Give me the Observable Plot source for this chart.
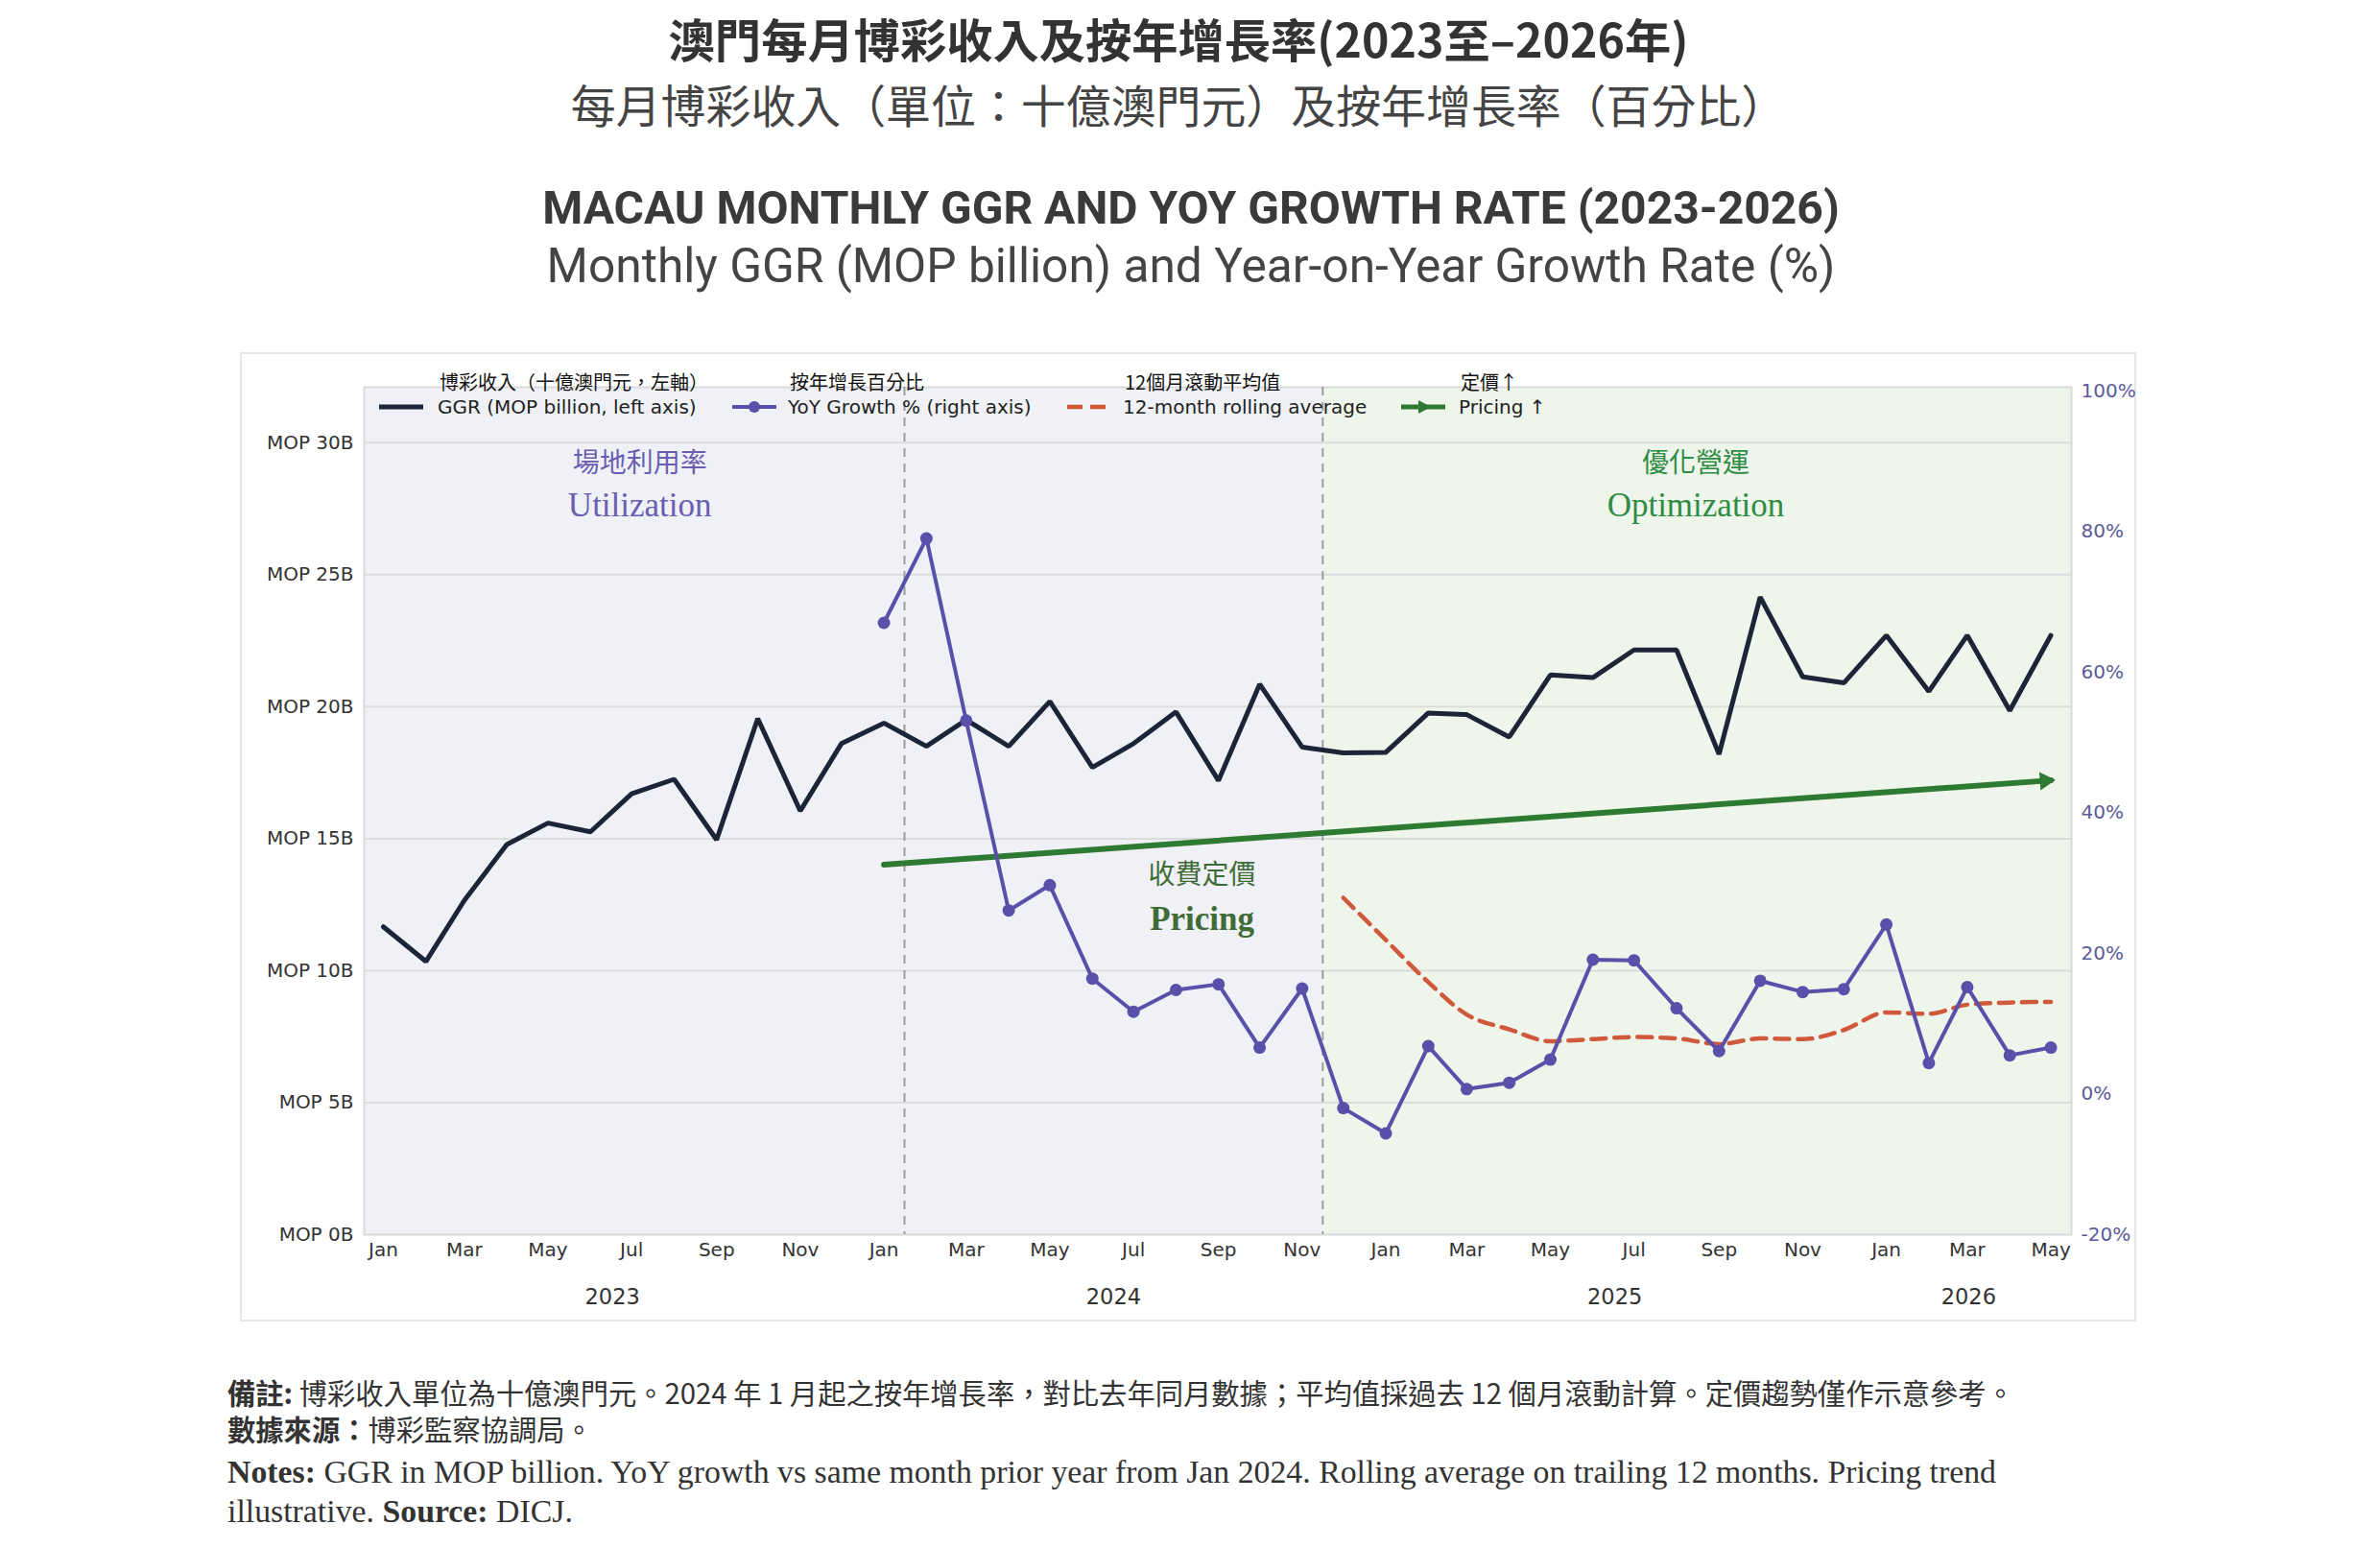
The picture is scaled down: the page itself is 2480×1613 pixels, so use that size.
<!DOCTYPE html>
<html><head><meta charset="utf-8">
<script src="https://cdn.jsdelivr.net/npm/d3@7"></script>
<script src="https://cdn.jsdelivr.net/npm/@observablehq/plot@0.6"></script>
<style>
body{margin:0;background:#fff;width:2480px;height:1613px;position:relative;overflow:hidden;font-family:"DejaVu Sans",sans-serif;}
.abs{position:absolute;white-space:nowrap;line-height:1;}
.c{transform:translate(-50%,-50%);}
.l{transform:translate(0,-50%);}
#box{position:absolute;left:250px;top:367px;width:1972px;height:1006px;border:2px solid #e6e6e6;}
#chart{position:absolute;left:250px;top:367px;}
.cjk{font-family:"Noto Sans CJK TC",sans-serif;}
</style></head><body>
<div id="box"></div>
<div id="chart"></div>
<script>
// ---------- DATA ----------
const firstMonth = "2023-01";
const lastMonth = "2026-05";
const ggrValues = [11.66, 10.35, 12.66, 14.78, 15.59, 15.26, 16.7, 17.25, 14.96, 19.55, 16.05, 18.6,
                   19.38, 18.5, 19.5, 18.5, 20.2, 17.7, 18.6, 19.8, 17.2, 20.85, 18.47, 18.25,
                   18.27, 19.76, 19.7, 18.85, 21.2, 21.1, 22.15, 22.15, 18.2, 24.15, 21.13, 20.9,
                   22.7, 20.58, 22.7, 19.85, 22.7];
const yoyStart = "2024-01";
const yoyValues = [67.0, 79.0, 53.1, 26.1, 29.7, 16.4, 11.7, 14.8, 15.6, 6.6, 15.0, -2.0,
                   -5.6, 6.8, 0.7, 1.6, 4.9, 19.1, 19.0, 12.2, 6.1, 16.1, 14.5, 14.9,
                   24.1, 4.4, 15.2, 5.5, 6.6];
const rollStart = "2024-12";
const rollValues = [27.9, 21.9, 15.9, 11.3, 9.2, 7.5, 7.8, 8.1, 7.9, 7.1, 7.9, 7.8, 9.1,
                    11.6, 11.4, 12.7, 13.0, 13.1];
const pricingMonths = ["2024-01", "2026-05"];
const pricingValues = [32.6, 44.6];
const leftTicks = [0, 5, 10, 15, 20, 25, 30];
const rightTicks = [-20, 0, 20, 40, 60, 80, 100];
const phaseBounds = ["2024-01-16", "2024-11-16"];
const phases = [
  {start: "2022-12-18", end: "2024-11-16", name: "utilization"},
  {start: "2024-11-16", end: "2026-05-16", name: "optimization"}
];
const annotations = [
  {date: "2023-07-07", v: 29.2, text: "場地利用率", kind: "cjk", group: "u"},
  {date: "2023-07-07", v: 27.6, text: "Utilization", kind: "en", group: "u"},
  {date: "2024-08-20", v: 13.6, text: "收費定價", kind: "cjk", group: "p"},
  {date: "2024-08-20", v: 11.95, text: "Pricing", kind: "enb", group: "p"},
  {date: "2025-08-15", v: 29.2, text: "優化營運", kind: "cjk", group: "o"},
  {date: "2025-08-15", v: 27.6, text: "Optimization", kind: "en", group: "o"}
];
const legendItems = [
  {kind: "ggr", cjk: "博彩收入（十億澳門元，左軸）", en: "GGR (MOP billion, left axis)"},
  {kind: "yoy", cjk: "按年增長百分比", en: "YoY Growth % (right axis)"},
  {kind: "roll", cjk: "12個月滾動平均值", en: "12-month rolling average"},
  {kind: "price", cjk: "定價↑", en: "Pricing ↑"}
];

// ---------- helpers ----------
const pm = d3.utcParse("%Y-%m");
const pd = d3.utcParse("%Y-%m-%d");
const months = d3.utcMonth.range(pm(firstMonth), d3.utcMonth.offset(pm(lastMonth), 1));
const yTop = 32.1, pctMin = -20, pctMax = 100.5;
const toLeft = p => (p - pctMin) / (pctMax - pctMin) * yTop;
const fromLeft = v => v / yTop * (pctMax - pctMin) + pctMin;

const ggr = months.map((d, i) => ({date: d, v: ggrValues[i]}));
const yoy = yoyValues.map((v, i) => ({date: d3.utcMonth.offset(pm(yoyStart), i), v: toLeft(v)}));
const roll = rollValues.map((v, i) => ({date: d3.utcMonth.offset(pm(rollStart), i), v: toLeft(v)}));
const pricing = pricingMonths.map((m, i) => ({date: pm(m), v: toLeft(pricingValues[i])}));
const monthTicks = months.filter(d => d.getUTCMonth() % 2 === 0);
const years = d3.groups(months, d => d.getUTCFullYear()).map(([y, ds]) => ({
  year: String(y), center: new Date((+ds[0] + +ds[ds.length - 1]) / 2)
}));
const ann = annotations.map(a => ({...a, date: pd(a.date)}));

const colors = {ggr: "#1c2538", yoy: "#5a4fa9", roll: "#d0593b", price: "#2e7a32",
  bgU: "#f0f1f6", bgO: "#eef5eb", annU: "#6a5db2", annP: "#3f6b36", annO: "#2f8c44"};

const chart = Plot.plot({
  width: 1976, height: 1010,
  marginLeft: 129, marginRight: 68, marginTop: 36, marginBottom: 91,
  style: {background: "transparent", fontFamily: "DejaVu Sans", fontSize: "20px", color: "#333", overflow: "visible"},
  x: {type: "utc", domain: [pd("2022-12-18"), pd("2026-05-16")]},
  y: {domain: [0, yTop]},
  marks: [
    Plot.rect(phases, {x1: d => pd(d.start), x2: d => pd(d.end),
      fill: d => d.name === "utilization" ? colors.bgU : colors.bgO}),
    Plot.gridY([5, 10, 15, 20, 25, 30], {stroke: "#dcdcdc", strokeOpacity: 1, strokeWidth: 2}),
    Plot.frame({stroke: "#dadada", strokeWidth: 2}),
    Plot.ruleX(phaseBounds.map(pd), {stroke: "#9c9c9c", strokeWidth: 2, strokeDasharray: "9,7"}),
    Plot.line(pricing, {x: "date", y: "v", stroke: colors.price, strokeWidth: 6}),
    Plot.dot(pricing.slice(-1), {x: "date", y: "v", symbol: "triangle2", r: 9, rotate: 86, fill: colors.price, dx: -6, dy: 0.5}),
    Plot.line(ggr, {x: "date", y: "v", stroke: colors.ggr, strokeWidth: 5, strokeLinejoin: "miter"}),
    Plot.line(roll, {x: "date", y: "v", stroke: colors.roll, strokeWidth: 4.5, strokeDasharray: "15,9", curve: "monotone-x"}),
    Plot.line(yoy, {x: "date", y: "v", stroke: colors.yoy, strokeWidth: 4}),
    Plot.dot(yoy, {x: "date", y: "v", r: 6.5, fill: colors.yoy, stroke: "none"}),
    Plot.text(ann.filter(a => a.kind === "cjk"), {x: "date", y: "v", text: "text",
      fill: d => d.group === "u" ? colors.annU : d.group === "p" ? colors.annP : colors.annO,
      fontSize: 28, fontFamily: "Noto Sans CJK TC"}),
    Plot.text(ann.filter(a => a.kind === "en"), {x: "date", y: "v", text: "text",
      fill: d => d.group === "u" ? colors.annU : colors.annO, fontSize: 35, fontFamily: "Liberation Serif"}),
    Plot.text(ann.filter(a => a.kind === "enb"), {x: "date", y: "v", text: "text",
      fill: colors.annP, fontSize: 35, fontFamily: "Liberation Serif", fontWeight: "bold"}),
    Plot.axisY(leftTicks, {tickFormat: d => `MOP ${d}B`, tickSize: 0, tickPadding: 11, fontSize: 20, fill: "#333", label: null}),
    Plot.axisY(rightTicks.map(toLeft), {anchor: "right", tickFormat: d => `${Math.round(fromLeft(d))}%`, tickSize: 0, tickPadding: 10, fontSize: 20, fill: "#5b5b99", label: null}),
    Plot.axisX(monthTicks, {tickFormat: d3.utcFormat("%b"), tickSize: 0, tickPadding: 8, fontSize: 20, fill: "#333", label: null}),
    Plot.text(years, {x: "center", text: "year", frameAnchor: "bottom", dy: 72, fontSize: 22.5, fill: "#333"})
  ]
});
document.getElementById("chart").append(chart);

// ---------- text layout ----------
function addText(html, cls, x, y, style) {
  const el = document.createElement("div");
  el.className = "abs " + cls;
  el.innerHTML = html;
  el.style.left = x + "px"; el.style.top = y + "px";
  Object.assign(el.style, style || {});
  document.body.append(el);
  return el;
}
function fit(el, w) {
  const cw = el.getBoundingClientRect().width;
  const fs = parseFloat(getComputedStyle(el).fontSize);
  el.style.fontSize = (fs * w / cw) + "px";
  return el;
}
fit(addText("澳門每月博彩收入及按年增長率(2023至–2026年)", "c cjk", 1228, 39, {fontSize: "47px", fontWeight: 700, color: "#333"}), 1063);
fit(addText("每月博彩收入（單位：十億澳門元）及按年增長率（百分比）", "c cjk", 1228, 108, {fontSize: "47px", fontWeight: 400, color: "#444"}), 1267);
fit(addText("MACAU MONTHLY GGR AND YOY GROWTH RATE (2023-2026)", "c", 1241, 217, {fontFamily: "Roboto", fontSize: "44px", fontWeight: 700, color: "#3a3a3a"}), 1352);
fit(addText("Monthly GGR (MOP billion) and Year-on-Year Growth Rate (%)", "c", 1241, 278, {fontFamily: "Roboto", fontSize: "44px", fontWeight: 400, color: "#444"}), 1343);

// legend
const swX = [395, 763, 1112, 1460], txX = [456, 821, 1170, 1520];
function swatch(kind) {
  const c = colors[kind];
  if (kind === "ggr") return `<svg width="46" height="20"><line x1="0" y1="10" x2="46" y2="10" stroke="${c}" stroke-width="5"/></svg>`;
  if (kind === "yoy") return `<svg width="46" height="20"><line x1="0" y1="10" x2="46" y2="10" stroke="${c}" stroke-width="4"/><circle cx="23" cy="10" r="6" fill="${c}"/></svg>`;
  if (kind === "roll") return `<svg width="46" height="20"><line x1="0" y1="10" x2="46" y2="10" stroke="${c}" stroke-width="4.5" stroke-dasharray="16,8"/></svg>`;
  return `<svg width="46" height="20"><line x1="0" y1="10" x2="46" y2="10" stroke="${c}" stroke-width="5"/><path d="M18,3 L31,10 L18,17 Z" fill="${c}"/></svg>`;
}
legendItems.forEach((it, i) => {
  addText(swatch(it.kind), "l", swX[i], 424, {lineHeight: 0});
  addText(it.cjk, "l cjk", txX[i] + 2, 398, {fontSize: "20px", color: "#111"});
  addText(it.en, "l", txX[i], 424, {fontSize: "20px", color: "#222"});
});

// notes
const n1 = addText("<b>備註:</b> 博彩收入單位為十億澳門元。2024 年 1 月起之按年增長率，對比去年同月數據；平均值採過去 12 個月滾動計算。定價趨勢僅作示意參考。", "l cjk", 237, 1451, {fontSize: "28px", color: "#333"});
fit(n1, 1863);
addText("<b>數據來源：</b>博彩監察協調局。", "l cjk", 237, 1489, {fontSize: n1.style.fontSize, color: "#333"});
const e1 = addText("<b>Notes:</b> GGR in MOP billion. YoY growth vs same month prior year from Jan 2024. Rolling average on trailing 12 months. Pricing trend", "l", 237, 1534, {fontFamily: "Liberation Serif", fontSize: "31px", color: "#333"});
fit(e1, 1844);
addText("illustrative. <b>Source:</b> DICJ.", "l", 237, 1575, {fontFamily: "Liberation Serif", fontSize: e1.style.fontSize, color: "#333"});
</script>
</body></html>
